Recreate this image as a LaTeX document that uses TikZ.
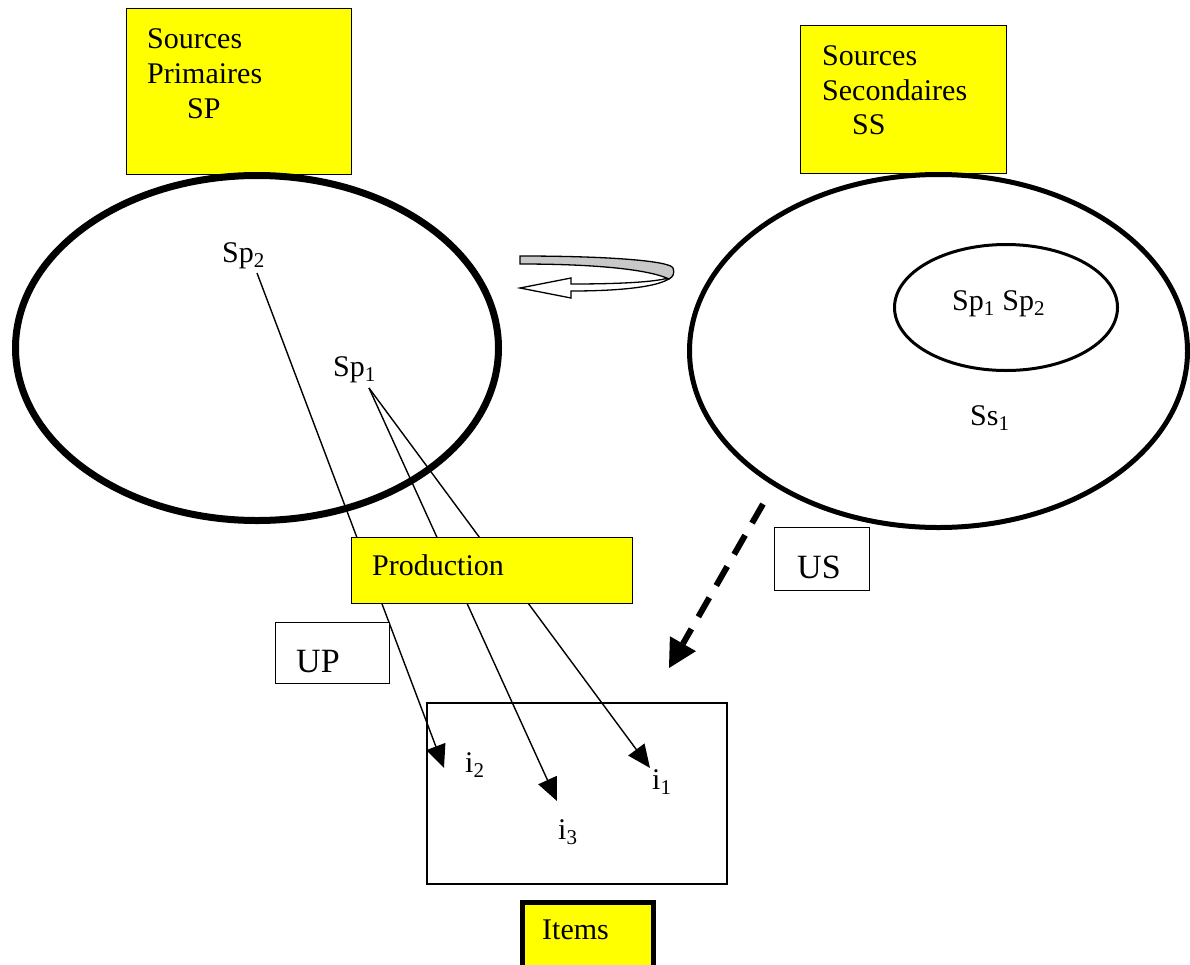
\documentclass[tikz,border=0pt]{standalone}
\usepackage{fontspec}
\setmainfont{Liberation Serif}
\usetikzlibrary{arrows.meta,shapes.geometric}
\definecolor{yel}{RGB}{255,255,0}
\definecolor{band}{RGB}{200,200,200}
\begin{document}
\begin{tikzpicture}[x=1pt,y=-1pt,
  txt/.style={anchor=base west, inner sep=0pt, font=\fontsize{30}{34.5}\selectfont},
  bigtxt/.style={anchor=base west, inner sep=0pt, font=\fontsize{34}{39}\selectfont},
  ybox/.style={draw, fill=yel, line width=1pt, inner sep=0pt, anchor=north west},
  wbox/.style={draw, fill=white, line width=1.2pt, inner sep=0pt, anchor=north west},
  oval/.style={draw, ellipse, inner sep=0pt},
  link/.style={line width=1.4pt, -{Triangle[length=23pt,width=20pt]}},
]
\useasboundingbox (0,0) rectangle (1190,964);
\clip (0,0) rectangle (1190,964);

% source boxes
\node[ybox, minimum width=225pt, minimum height=166pt] (spbox) at (126,8) {};
\node[txt] (sp1line) at (147,48) {Sources};
\node[txt] (sp2line) at (147,83) {Primaires};
\node[txt] (sp3line) at (187,118) {SP};

\node[ybox, minimum width=206pt, minimum height=148pt] (ssbox) at (800,25) {};
\node[txt] (ss1line) at (822,65) {Sources};
\node[txt] (ss2line) at (822,100) {Secondaires};
\node[txt] (ss3line) at (852,134) {SS};

% ellipses
\node[oval, line width=7pt, minimum width=483pt, minimum height=345pt] (L) at (257,348) {};
\node[oval, line width=5pt, minimum width=498pt, minimum height=353pt] (R) at (938.5,351) {};
\node[oval, line width=3pt, minimum width=223pt, minimum height=126pt] (I) at (1006,307.5) {};

% labels in ellipses
\node[txt] (lsp2) at (222,262) {Sp\textsubscript{2}};
\node[txt] (lsp1) at (333,376) {Sp\textsubscript{1}};
\node[txt] (lspp) at (952,310) {Sp\textsubscript{1} Sp\textsubscript{2}};
\node[txt] (lss1) at (970,425) {Ss\textsubscript{1}};

% curved arrow between ellipses
\draw[fill=white, line width=1.3pt] (520,288) -- (571,278) -- (571,284)
  .. controls (620,284) and (655,282) .. (668,278) -- (673,271)
  .. controls (677,283) and (640,291) .. (571,291) -- (571,298) -- cycle;
\draw[fill=band, line width=1.3pt] (520,256) .. controls (610,256) and (670,261) .. (673,268)
  .. controls (675,273) and (673,277) .. (669,279)
  .. controls (650,270) and (600,264) .. (520,264) -- cycle;

% items area
\node[draw, line width=2pt, minimum width=300pt, minimum height=181pt, inner sep=0pt, anchor=north west] (items) at (426,702) {};
\node[txt] (i2) at (465,772) {i\textsubscript{2}};
\node[txt] (i3) at (558,839) {i\textsubscript{3}};
\node[txt] (i1) at (652,789) {i\textsubscript{1}};

% links
\coordinate (sp2s) at (257,273);
\coordinate (sp1s) at (369,388);
\coordinate (i2t) at (444,768);
\coordinate (i3t) at (557,801);
\coordinate (i1t) at (650,768);
\draw[link] (sp2s) -- (i2t);
\draw[link] (sp1s) -- (i3t);
\draw[link] (sp1s) -- (i1t);

% production box
\node[ybox, minimum width=281pt, minimum height=66pt] (prod) at (351,537) {};
\node[txt] (prodtxt) at (372,575) {Production};

% UP / US boxes
\node[wbox, minimum width=114pt, minimum height=61pt] (up) at (275,622) {};
\node[bigtxt] (uptxt) at (296,672) {UP};
\node[wbox, minimum width=95pt, minimum height=63pt] (us) at (774,527) {};
\node[bigtxt] (ustxt) at (797,578) {US};

% dashed arrow
\coordinate (ds) at (763,504);
\coordinate (dt) at (669,668);
\draw[line width=6pt, dash pattern=on 22pt off 14pt,
  -{Triangle[length=28pt,width=30pt,line width=0pt]}] (ds) -- (dt);

% Items label
\node[ybox, line width=5pt, minimum width=131pt, minimum height=80pt] (itemsbox) at (519.5,899.5) {};
\node[txt] (itemstxt) at (542,939) {Items};
\end{tikzpicture}
\end{document}
